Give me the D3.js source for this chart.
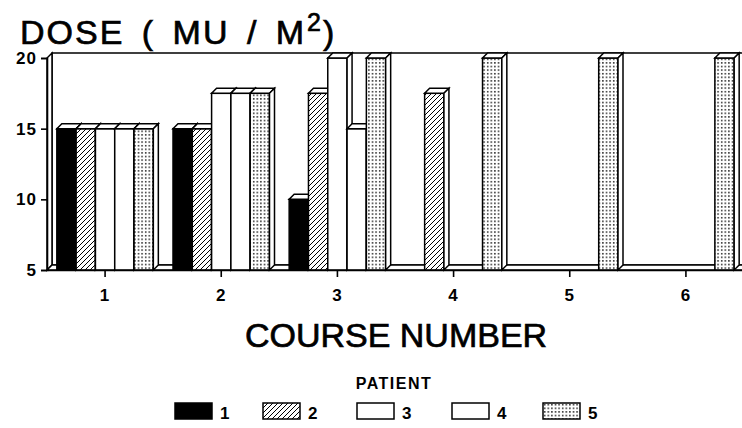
<!DOCTYPE html>
<html>
<head>
<meta charset="utf-8">
<script src="https://cdn.jsdelivr.net/npm/d3@7"></script>
<style>
  body { margin: 0; background: #fff; }
  text { font-family: "Liberation Sans", Arial, sans-serif; fill: #000; }
</style>
</head>
<body>
<div id="chart"></div>
<script>
var courses = ["1", "2", "3", "4", "5", "6"];
var patients = ["1", "2", "3", "4", "5"];
// dose per course, one array per patient (null = no bar)
var patient1 = [15, 15, 10, null, null, null];
var patient2 = [15, 15, 17.5, 17.5, null, null];
var patient3 = [15, 17.5, 20, null, null, null];
var patient4 = [15, 17.5, 15, null, null, null];
var patient5 = [15, 17.5, 20, 20, 20, 20];
var yTicks = [5, 10, 15, 20];

var series = [patient1, patient2, patient3, patient4, patient5];
var fills = ["#000", "url(#hatch)", "#fff", "#fff", "url(#dots)"];

var width = 742, height = 428;
var depth = 5;
var lw = 1.5;

var svg = d3.select("#chart")
    .append("svg")
    .attr("width", width)
    .attr("height", height);

var defs = svg.append("defs");
var hatch = defs.append("pattern")
    .attr("id", "hatch")
    .attr("patternUnits", "userSpaceOnUse")
    .attr("width", 5).attr("height", 5);
hatch.append("rect").attr("width", 5).attr("height", 5).attr("fill", "#fff");
hatch.append("path")
    .attr("d", "M-1,6 L6,-1 M-1,1 L1,-1 M4,6 L6,4")
    .attr("stroke", "#000").attr("stroke-width", 1);

var dots = defs.append("pattern")
    .attr("id", "dots")
    .attr("patternUnits", "userSpaceOnUse")
    .attr("width", 3.6).attr("height", 3.6);
dots.append("rect").attr("width", 3.6).attr("height", 3.6).attr("fill", "#fff");
dots.append("rect").attr("x", 1).attr("y", 1).attr("width", 1.4).attr("height", 1.4).attr("fill", "#000");

var x = d3.scaleBand()
    .domain(courses)
    .range([47, 744]);

var groupWidth = 96.5;
var xInner = d3.scaleBand()
    .domain(patients)
    .range([0, groupWidth]);

var y = d3.scaleLinear()
    .domain([5, 20])
    .range([270, 58]);

var y0 = y(5);
var x0 = x.range()[0], x1 = x.range()[1];

// back wall, left wall and floor
svg.append("rect")
    .attr("x", x0 + depth).attr("y", y(20) - depth)
    .attr("width", x1 - x0).attr("height", y0 - y(20))
    .attr("fill", "#fff").attr("stroke", "#000").attr("stroke-width", lw);
svg.append("polygon")
    .attr("points", [[x0, y0], [x0, y(20)], [x0 + depth, y(20) - depth], [x0 + depth, y0 - depth]].join(" "))
    .attr("fill", "#fff").attr("stroke", "#000").attr("stroke-width", lw);
svg.append("polygon")
    .attr("points", [[x0, y0], [x0 + depth, y0 - depth], [x1 + depth, y0 - depth], [x1, y0]].join(" "))
    .attr("fill", "#fff").attr("stroke", "#000").attr("stroke-width", lw);

// bars, left to right
var bars = svg.append("g");
courses.forEach(function (c, ci) {
    var gx = x(c) + (x.bandwidth() - groupWidth) / 2;
    patients.forEach(function (p, pi) {
        var v = series[pi][ci];
        if (v == null) return;
        var bx = gx + xInner(p), bw = xInner.bandwidth(), by = y(v);
        var g = bars.append("g");
        g.append("rect")
            .attr("x", bx).attr("y", by)
            .attr("width", bw).attr("height", y0 - by)
            .attr("fill", fills[pi]).attr("stroke", "#000").attr("stroke-width", lw);
        g.append("polygon")
            .attr("points", [[bx, by], [bx + depth, by - depth], [bx + bw + depth, by - depth], [bx + bw, by]].join(" "))
            .attr("fill", "#fff").attr("stroke", "#000").attr("stroke-width", lw);
        g.append("polygon")
            .attr("points", [[bx + bw, by], [bx + bw + depth, by - depth], [bx + bw + depth, y0 - depth], [bx + bw, y0]].join(" "))
            .attr("fill", "#fff").attr("stroke", "#000").attr("stroke-width", lw);
    });
});

// axes
var yAxis = svg.append("g")
    .attr("transform", "translate(" + x0 + ",0)")
    .call(d3.axisLeft(y).tickValues(yTicks).tickSize(6).tickPadding(4));
var xAxis = svg.append("g")
    .attr("transform", "translate(0," + y0 + ")")
    .call(d3.axisBottom(x).tickSize(7).tickSizeOuter(0).tickPadding(12));
[yAxis, xAxis].forEach(function (a) {
    a.selectAll("path, line").attr("stroke", "#000").attr("stroke-width", 1.6);
    a.selectAll("text")
        .style("font-family", "Liberation Sans, Arial, sans-serif")
        .style("font-size", "17px")
        .style("font-weight", "bold")
        .style("letter-spacing", "1px")
        .attr("fill", "#000");
});

// titles
var title = svg.append("text")
    .attr("x", 20).attr("y", 44)
    .style("font-size", "34px")
    .style("letter-spacing", "2px")
    .style("word-spacing", "6px")
    .attr("stroke", "#000").attr("stroke-width", 0.7);
title.append("tspan").text("DOSE ( MU / M");
title.append("tspan").attr("dx", 1).attr("dy", -13).style("font-size", "25px").text("2");
title.append("tspan").attr("dy", 13).text(")");

svg.append("text")
    .attr("x", 396).attr("y", 347)
    .attr("text-anchor", "middle")
    .style("font-size", "34px")
    .attr("stroke", "#000").attr("stroke-width", 0.7)
    .text("COURSE NUMBER");

// legend
svg.append("text")
    .attr("x", 394).attr("y", 389)
    .attr("text-anchor", "middle")
    .style("font-size", "16px")
    .style("font-weight", "bold")
    .style("letter-spacing", "1.5px")
    .text("PATIENT");

var legendX = [175, 263, 357, 452, 543];
var legend = svg.append("g").selectAll("g")
    .data(patients)
    .enter()
    .append("g")
    .attr("transform", function (d, i) { return "translate(" + legendX[i] + ",403)"; });
legend.append("rect")
    .attr("width", 37).attr("height", 16)
    .attr("fill", function (d, i) { return fills[i]; })
    .attr("stroke", "#000").attr("stroke-width", lw);
legend.append("text")
    .attr("x", 45).attr("y", 16)
    .style("font-size", "17px")
    .style("font-weight", "bold")
    .text(function (d) { return d; });
</script>
</body>
</html>
